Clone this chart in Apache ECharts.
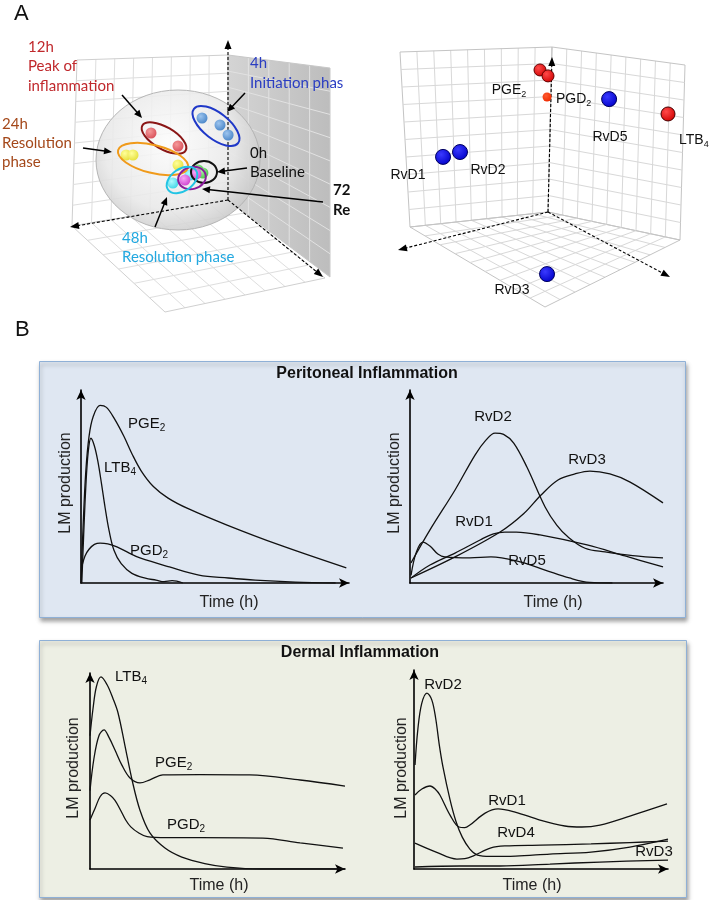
<!DOCTYPE html>
<html><head><meta charset="utf-8">
<script src="https://cdn.jsdelivr.net/npm/echarts@6/dist/echarts.min.js"></script>
<style>html,body{margin:0;padding:0;background:#fff}#c{width:709px;height:900px}</style>
</head><body><div id="c"></div>
<script>
// ---------------- DATA ----------------
// Panel A left: projected PCA scores (arbitrary units)
const pca0h  = [[5.27,4.8],[5.43,4.68]];
const pca4h  = [[5.4,6.88],[6.0,6.6],[6.27,6.2]];
const pca12h = [[3.7,6.28],[4.6,5.76]];
const pca24h = [[2.87,5.4],[3.1,5.4],[4.6,5.0]];
const pca48h = [[4.43,4.28],[5.0,4.6]];
const pca72h = [[4.83,4.4],[5.2,4.64]];
// Panel A right: projected loadings
const loadPGE2 = [[5.0,8.52],[5.25,8.3]];
const loadPGD2 = [[5.22,7.52]];
const loadLTB4 = [[9.0,6.89]];
const loadRvD  = [[1.97,5.3],[2.5,5.48],[5.22,0.96],[7.16,7.44]]; // RvD1, RvD2, RvD3, RvD5

// Panel B: Peritoneal inflammation (time 0-100, LM production 0-100)
const perPGE2 = [[0,0],[0.8,30],[1.8,58],[3,76],[4.5,86],[7.1,92],[9.5,91],[12.5,85],[16,76],[19,67],[22.5,58],[27,50],[32.5,44],[40,38.5],[54.5,30],[74,19.7],[99,7.8]];
const perLTB4 = [[0.3,0],[1,25],[1.8,50],[2.7,68],[3.7,75],[5,71],[6.3,63],[7.7,51],[9,39],[10.5,27],[12.3,17],[15,10],[19,5],[24,2.5],[28,1.5],[31,0.7],[34,1.2],[38,0]];
const perPGD2 = [[0.4,9],[1.5,14],[3,17.5],[5,20],[7.1,20.7],[10,20.3],[13.4,18.7],[18,15.5],[22,13],[33,8.3],[44,4.1],[55,2.6],[65,1.5],[80,0.5],[95,0]];
const perRvD2 = [[0.4,10.4],[7.9,27.5],[17.8,48.2],[25.7,66.3],[30,74],[33.6,77.7],[37,77],[41,72.5],[46.2,60.1],[53.4,39.4],[58,30],[62.5,23.8],[69.2,18],[77.1,16.1],[88,14.2],[100,13]];
const perRvD3 = [[0.4,2.6],[17.8,13.5],[35.6,26.4],[45,36],[51.8,45.6],[58.5,53.4],[65.2,56.5],[71.1,58],[79,56.5],[87,52.3],[100,41.5]];
const perRvD1 = [[0.4,2.6],[7.9,9.3],[17.8,15.5],[27.7,22.3],[33,25.5],[37.5,26.4],[42,26.4],[51.4,24.9],[70,19.7],[85,14],[100,8.3]];
const perRvD5 = [[0.4,4],[2.5,16],[5.1,21.2],[8,19],[11,15],[13.8,13.5],[23.7,13],[32,13.5],[43.5,10.9],[53.4,6.7],[63,2.6],[71,0.3],[80,0]];

// Panel B: Dermal inflammation
const derLTB4 = [[0,68],[1.2,82],[2.5,93],[4.3,98],[6.7,94],[9,87],[11,79.6],[13.7,63],[16.5,45.4],[19.6,30],[23.5,18.4],[29.4,10.7],[36,6.1],[45,2.8],[53.7,1],[66.7,0],[100,0]];
const derPGE2 = [[0,40],[1.5,56],[3.5,68],[5.5,71],[7.5,67],[9.8,60.7],[12.5,53],[15.7,46.4],[19.6,43.9],[23.5,45.5],[28.6,48],[43,48.2],[62.7,48],[82.4,45.4],[100,42.3]];
const derPGD2 = [[0,25],[2,31],[4,37],[5.9,38.8],[8,37.5],[9.8,35],[12,30],[14,25],[16,21.5],[19,18.5],[22.4,16.5],[30,16],[43,16],[67.8,15.8],[82.4,13.3],[99.2,10.7]];
const derRvD2 = [[0.4,52.3],[1.5,70],[3,83],[5.1,88.4],[7,85],[8.5,76],[10,62],[11.4,51.3],[14.2,34.7],[16.5,24],[19,16],[22,10],[25,7],[30,6.3],[40,6.5],[53.5,7.5],[69.7,8.5],[85,11],[100,15]];
const derRvD1 = [[0.4,37.2],[3.1,40.2],[6.3,41.7],[8.5,40],[10.2,37.2],[14.2,27.1],[17.7,21.1],[20,20.8],[22,22.1],[28,28.1],[33.1,30.2],[39.8,28.6],[49.6,24.6],[59.4,21.6],[66.1,21.1],[73.2,22.1],[85,26.6],[99.6,32.7]];
const derRvD4 = [[0.4,13],[8.7,8.5],[16.9,5],[20,5.2],[23.2,6.5],[30.3,10.6],[35.8,11.6],[50,12],[69.7,12.6],[85,13.3],[100,14]];
const derRvD3 = [[0.4,1],[18.1,1.5],[33.9,1.5],[53.5,2.5],[73.2,3.5],[100,4.5]];

// ---------------- CHART ----------------
const chart = echarts.init(document.getElementById('c'));
const SANS = 'Liberation Sans, Arial, sans-serif';
const LAB = 'Lato, sans-serif';

const lineGrids = [
  {left:81, top:390, width:268, height:193},
  {left:410, top:390, width:253, height:193},
  {left:90, top:673, width:255, height:196},
  {left:414, top:670, width:254, height:199}
];
const scatterGrids = [
  {left:40, top:40, width:300, height:250},
  {left:380, top:30, width:320, height:270}
];
const grids = lineGrids.concat(scatterGrids);

const xAxes = [], yAxes = [];
lineGrids.forEach((g,i)=>{
  const ax = {gridIndex:i, type:'value', min:0, max:100, axisTick:{show:false}, axisLabel:{show:false}, splitLine:{show:false},
    axisLine:{show:true, onZero:false, symbol:['none','arrow'], symbolSize:[7,10], lineStyle:{color:'#000', width:1.6}}};
  xAxes.push(Object.assign({}, ax));
  yAxes.push(Object.assign({}, ax));
});
[4,5].forEach(i=>{
  xAxes.push({gridIndex:i, type:'value', min:0, max:10, show:false});
  yAxes.push({gridIndex:i, type:'value', min:0, max:10, show:false});
});

function lineS(idx, data){
  return {type:'line', xAxisIndex:idx, yAxisIndex:idx, data:data, smooth:0.35,
    showSymbol:false, silent:true, lineStyle:{color:'#111', width:1.3}, z:3};
}
function ball(c1, c2){
  return {type:'radial', x:0.38, y:0.35, r:0.7, colorStops:[{offset:0, color:c1},{offset:1, color:c2}]};
}
function scat(idx, data, size, c1, c2, border){
  return {type:'scatter', xAxisIndex:idx, yAxisIndex:idx, data:data, symbolSize:size, silent:true, z:3,
    itemStyle:{color:ball(c1,c2), borderColor:border||'transparent', borderWidth:border?1:0, opacity:1}};
}

const series = [
  lineS(0, perPGE2), lineS(0, perLTB4), lineS(0, perPGD2),
  lineS(1, perRvD2), lineS(1, perRvD3), lineS(1, perRvD1), lineS(1, perRvD5),
  lineS(2, derLTB4), lineS(2, derPGE2), lineS(2, derPGD2),
  lineS(3, derRvD2), lineS(3, derRvD1), lineS(3, derRvD4), lineS(3, derRvD3),
  scat(4, pca24h, 11, '#ffff9a', '#e6e03c'),
  scat(4, pca12h, 11, '#f59a9a', '#d9505a'),
  scat(4, pca4h, 11, '#9cc4ee', '#4a86c8'),
  scat(4, pca0h, 11, '#a6f5a6', '#46c446'),
  scat(4, pca48h, 11, '#b0fbff', '#3fd6e6'),
  scat(4, pca72h, 11, '#f6a6f6', '#d044d0'),
  scat(5, loadPGE2, 12, '#ff4a4a', '#d00000', '#600'),
  scat(5, loadPGD2, 9, '#ff5a30', '#ee2a00'),
  scat(5, loadLTB4, 14, '#ff4a4a', '#d00000', '#400'),
  scat(5, loadRvD, 15, '#3a3aff', '#0000c8', '#000060')
];

// ---------------- DECORATION ----------------
const G = [];
function ln(x1,y1,x2,y2,stroke,w,z,dash){
  G.push({type:'line', silent:true, z:z||0, shape:{x1,y1,x2,y2}, style:{stroke:stroke, lineWidth:w||1, lineDash:dash||null}});
}
function lerp(a,b,t){return [a[0]+(b[0]-a[0])*t, a[1]+(b[1]-a[1])*t];}
function quadGrid(p00,p10,p11,p01,nu,nv,color,edge,z){
  for(let i=0;i<=nu;i++){const a=lerp(p00,p10,i/nu), b=lerp(p01,p11,i/nu); ln(a[0],a[1],b[0],b[1],(i===0||i===nu)?edge:color,1,z);}
  for(let j=0;j<=nv;j++){const a=lerp(p00,p01,j/nv), b=lerp(p10,p11,j/nv); ln(a[0],a[1],b[0],b[1],(j===0||j===nv)?edge:color,1,z);}
}
function head(x1,y1,x2,y2,len,wid,z,color){
  const dx=x2-x1, dy=y2-y1, L=Math.hypot(dx,dy), ux=dx/L, uy=dy/L;
  const bx=x2-ux*len, by=y2-uy*len;
  G.push({type:'polygon', silent:true, z:z||0, shape:{points:[[x2,y2],[bx-uy*wid/2,by+ux*wid/2],[bx+uy*wid/2,by-ux*wid/2]]}, style:{fill:color||'#000'}});
}
function arrow(x1,y1,x2,y2,z,dash,len,wid){
  const dx=x2-x1, dy=y2-y1, L=Math.hypot(dx,dy);
  const l=len||8;
  ln(x1,y1,x2-dx/L*l*0.7,y2-dy/L*l*0.7,'#000',dash?1.1:1.5,z,dash);
  head(x1,y1,x2,y2,l,wid||7,z);
}
function txt(x,y,s,o){
  o=o||{};
  const st={text:s, fill:o.color||'#111', fontSize:o.size||15, fontFamily:o.font||SANS, fontWeight:o.weight||'normal',
      align:o.align||'left', verticalAlign:'middle'};
  if(o.clip){st.width=o.clip; st.overflow='truncate'; st.ellipsis='';}
  G.push({type:'text', silent:true, z:o.z||6, x:x, y:y, rotation:o.rot||0, style:st});
}
function subTxt(x,y,base,sub,o){
  o=o||{};
  const fs=o.size||15;
  G.push({type:'text', silent:true, z:6, x:x, y:y,
    style:{text:'{a|'+base+'}{s|'+sub+'}', align:o.align||'left', verticalAlign:'middle',
      rich:{a:{fontSize:fs, fontFamily:o.font||SANS, fill:'#111', lineHeight:fs+4, verticalAlign:'middle'},
            s:{fontSize:Math.round(fs*0.66), fontFamily:o.font||SANS, fill:'#111', lineHeight:Math.round(fs*0.66), verticalAlign:'bottom'}}}});
}

// ---- Panel A left ----
txt(14,14,'A',{size:22,font:SANS});
quadGrid([77,60],[228,55],[228,200],[72,226],8,8,'#dedede','#cfcfcf',0);
G.push({type:'polygon', silent:true, z:0, shape:{points:[[228,55],[330,68],[330,277],[228,200]]},
  style:{fill:{type:'linear',x:0,y:0,x2:1,y2:0,colorStops:[{offset:0,color:'#d4d4d4'},{offset:1,color:'#bdbdbd'}]}}});
quadGrid([228,55],[330,68],[330,277],[228,200],5,9,'#e2e2e2','#c8c8c8',0);
quadGrid([72,226],[228,200],[325,278],[165,312],8,6,'#dedede','#d0d0d0',0);
G.push({type:'ellipse', silent:true, z:1, shape:{cx:178,cy:160,rx:82,ry:70},
  style:{fill:{type:'radial',x:0.45,y:0.38,r:0.72,colorStops:[{offset:0,color:'rgba(252,252,252,0.88)'},{offset:0.65,color:'rgba(232,232,232,0.88)'},{offset:1,color:'rgba(195,195,195,0.9)'}]},
    stroke:'rgba(175,175,175,0.9)', lineWidth:1}});
arrow(228,200,228,40,1,[3,2],9,7);
arrow(228,200,70,227,1,[3,2],9,7);
arrow(228,200,323,277,1,[3,2],9,7);
function ell(cx,cy,rx,ry,deg,color){
  G.push({type:'ellipse', silent:true, z:5, x:cx, y:cy, rotation:-deg*Math.PI/180, shape:{cx:0,cy:0,rx:rx,ry:ry}, style:{fill:'none', stroke:color, lineWidth:2}});
}
ell(216,126,28,13,38,'#1f38c8');
ell(164,138,25,11,30,'#8a1616');
ell(153,159,36,14,14,'#f09a1a');
ell(204,172,13,11,0,'#111');
ell(192,178,14,11,-15,'#8a1a9a');
ell(182,180,17,11,-35,'#22c4e4');
txt(28,47,'12h',{font:LAB,color:'#c0282c'});
txt(28,66,'Peak of',{font:LAB,color:'#c0282c'});
txt(28,86,'inflammation',{font:LAB,color:'#c0282c'});
txt(2,124,'24h',{font:LAB,color:'#a4481a'});
txt(2,143,'Resolution',{font:LAB,color:'#a4481a'});
txt(2,162,'phase',{font:LAB,color:'#a4481a'});
txt(250,63,'4h',{font:LAB,color:'#2a3dc2'});
txt(250,83,'Initiation phase',{font:LAB,color:'#2a3dc2',clip:97});
txt(250,153,'0h',{font:LAB,color:'#111'});
txt(250,172,'Baseline',{font:LAB,color:'#111'});
txt(333,190,'72h',{font:LAB,color:'#111',weight:'bold',clip:20});
txt(333,210,'Resolution',{font:LAB,color:'#111',weight:'bold',clip:20});
txt(122,238,'48h',{font:LAB,color:'#22a8e0'});
txt(122,257,'Resolution phase',{font:LAB,color:'#22a8e0'});
arrow(122,95,142,118,6);
arrow(83,148,112,152,6);
arrow(245,93,227,112,6);
arrow(247,168,217,172,6);
arrow(323,202,202,189,6);
arrow(155,227,167,197,6);

// ---- Panel A right ----
quadGrid([400,52],[552,47],[548,212],[410,227],9,10,'#d8d8d8','#c4c4c4',0);
quadGrid([552,47],[685,65],[680,240],[548,212],9,10,'#d8d8d8','#c4c4c4',0);
quadGrid([410,227],[548,212],[680,240],[545,307],9,9,'#d8d8d8','#c4c4c4',0);
arrow(548,212,552,57,1,[3,2],9,7);
arrow(548,212,398,250,1,[3,2],9,7);
arrow(548,212,670,277,1,[3,2],9,7);
subTxt(509,90,'PGE','2',{align:'center',size:14});
subTxt(556,99,'PGD','2',{size:14});
txt(610,137,'RvD5',{align:'center',size:14});
subTxt(679,140,'LTB','4',{size:14});
txt(408,175,'RvD1',{align:'center',size:14});
txt(488,170,'RvD2',{align:'center',size:14});
txt(512,290,'RvD3',{align:'center',size:14});

// ---- Panel B ----
txt(15,330,'B',{size:22});
G.push({type:'rect', silent:true, z:0, shape:{x:39.5,y:361.5,width:646,height:256},
  style:{fill:'#dfe7f2', stroke:'#8fb0d6', lineWidth:1, shadowBlur:4, shadowOffsetX:1, shadowOffsetY:3, shadowColor:'rgba(0,0,0,0.35)'}});
G.push({type:'rect', silent:true, z:0, shape:{x:39.5,y:640.5,width:647,height:257},
  style:{fill:'#edefe4', stroke:'#8fb0d6', lineWidth:1, shadowBlur:4, shadowOffsetX:1, shadowOffsetY:3, shadowColor:'rgba(0,0,0,0.35)'}});
txt(367,374,'Peritoneal Inflammation',{align:'center',size:16,weight:'bold'});
txt(360,653,'Dermal Inflammation',{align:'center',size:16,weight:'bold'});
[[66,483],[395,483],[74,768],[402,768]].forEach(p=>txt(p[0],p[1],'LM production',{align:'center',size:16,rot:Math.PI/2,color:'#222'}));
[[229,603],[553,603],[219,886],[532,886]].forEach(p=>txt(p[0],p[1],'Time (h)',{align:'center',size:16,color:'#222'}));
subTxt(128,424,'PGE','2');
subTxt(104,468,'LTB','4');
subTxt(130,551,'PGD','2');
txt(493,417,'RvD2',{align:'center'});
txt(587,460,'RvD3',{align:'center'});
txt(474,522,'RvD1',{align:'center'});
txt(527,561,'RvD5',{align:'center'});
subTxt(115,677,'LTB','4');
subTxt(155,763,'PGE','2');
subTxt(167,825,'PGD','2');
txt(443,685,'RvD2',{align:'center'});
txt(507,801,'RvD1',{align:'center'});
txt(516,833,'RvD4',{align:'center'});
txt(654,852,'RvD3',{align:'center'});

chart.setOption({
  animation:false,
  backgroundColor:'#fff',
  grid:grids,
  xAxis:xAxes,
  yAxis:yAxes,
  series:series,
  graphic:{elements:G}
});
</script></body></html>
